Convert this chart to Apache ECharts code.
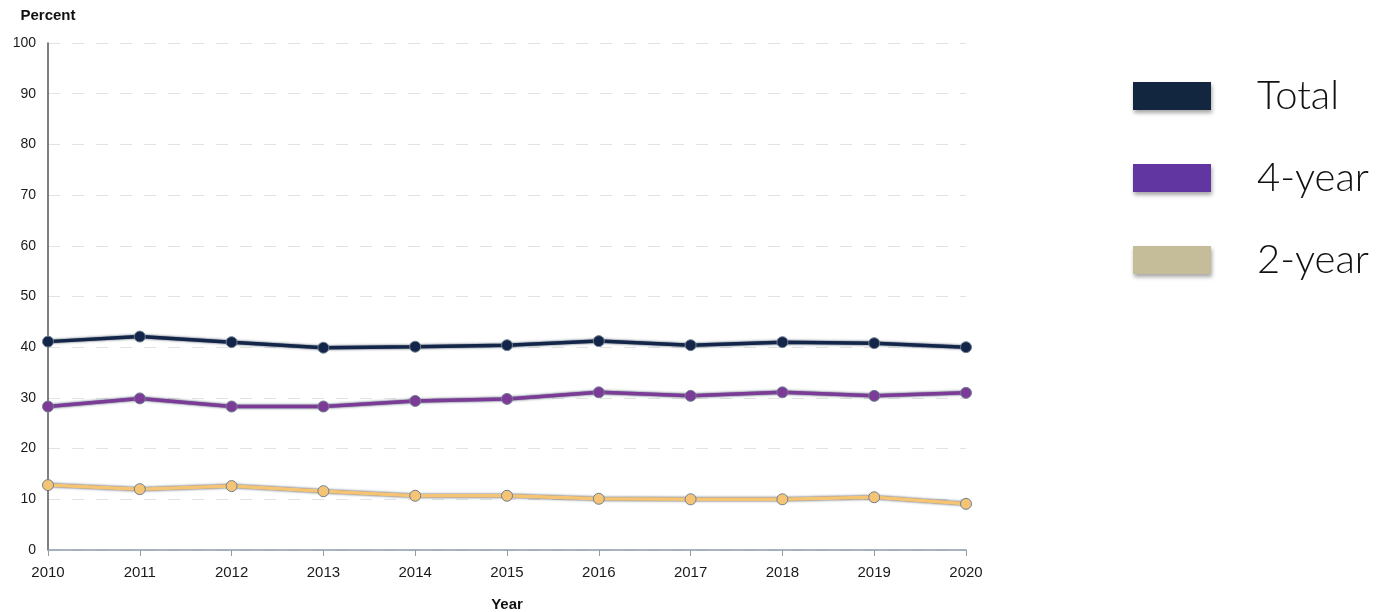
<!DOCTYPE html>
<html>
<head>
<meta charset="utf-8">
<script src="https://cdn.jsdelivr.net/npm/echarts@6/dist/echarts.min.js"></script>
<style>html,body{margin:0;padding:0;background:#fff;}#c{width:1376px;height:612px;}</style>
</head>
<body>
<div id="c"></div>
<script>
const years = ['2010','2011','2012','2013','2014','2015','2016','2017','2018','2019','2020'];
const total = [41.1, 42.1, 41.0, 39.9, 40.1, 40.4, 41.2, 40.4, 41.0, 40.8, 40.0];
const fourYear = [28.3, 29.9, 28.3, 28.3, 29.4, 29.8, 31.1, 30.4, 31.1, 30.4, 31.0];
const twoYear = [12.8, 12.0, 12.6, 11.6, 10.7, 10.7, 10.1, 10.0, 10.0, 10.4, 9.1];
const yTicks = [0, 10, 20, 30, 40, 50, 60, 70, 80, 90, 100];

const chart = echarts.init(document.getElementById('c'));
function lineSeries(name, data, color) {
  return {
    name: name, type: 'line', data: data,
    symbol: 'circle', symbolSize: 11,
    lineStyle: { color: color, width: 3.5, shadowColor: 'rgba(55,70,90,1)', shadowBlur: 2.5 },
    itemStyle: { color: color, borderColor: '#6f7f90', borderWidth: 1 },
    emphasis: { disabled: true }
  };
}
chart.setOption({
  animation: false,
  grid: { left: 48, right: 410, top: 43, bottom: 62, outerBoundsMode: 'none', containLabel: false },
  legend: {
    orient: 'vertical', left: 1128, top: 71,
    icon: 'rect', itemWidth: 78, itemHeight: 28, itemGap: 42,
    textStyle: { fontFamily: 'Lato', fontWeight: 300, fontSize: 40, color: '#111', lineHeight: 40, padding: [0, 0, 0, 41] },
    itemStyle: { borderWidth: 0, shadowBlur: 4, shadowColor: 'rgba(0,0,0,0.35)', shadowOffsetY: 3, shadowOffsetX: 1 },
    data: [
      { name: 'Total', itemStyle: { color: '#13263f' } },
      { name: '4-year', itemStyle: { color: '#6236a0' } },
      { name: '2-year', itemStyle: { color: '#c5bd99' } }
    ]
  },
  xAxis: {
    type: 'category', data: years, boundaryGap: false,
    name: 'Year', nameLocation: 'middle', nameGap: 47,
    nameTextStyle: { fontFamily: 'Liberation Sans', fontWeight: 'bold', fontSize: 15, color: '#111' },
    axisLine: { lineStyle: { color: '#8e9cab', width: 1.5 } },
    axisTick: { show: true, length: 6, lineStyle: { color: '#8e9cab' } },
    axisLabel: { fontFamily: 'Liberation Sans', fontSize: 15, color: '#1a1a1a', margin: 15 },
    splitLine: { show: false }
  },
  yAxis: {
    type: 'value', min: 0, max: 100, interval: 10,
    name: 'Percent', nameLocation: 'end', nameGap: 20,
    nameTextStyle: { fontFamily: 'Liberation Sans', fontWeight: 'bold', fontSize: 15, color: '#111', align: 'center' },
    axisLine: { show: true, lineStyle: { color: '#555', width: 1.5 } },
    axisTick: { show: false },
    axisLabel: { fontFamily: 'Liberation Sans', fontSize: 14, color: '#1a1a1a', margin: 12,
      formatter: function (v) { return yTicks.indexOf(v) >= 0 ? String(v) : ''; } },
    splitLine: { show: true, lineStyle: { color: '#e3e3e3', type: [12, 12], width: 1 } }
  },
  series: [
    lineSeries('2-year', twoYear, '#f5c575'),
    lineSeries('4-year', fourYear, '#7d3b98'),
    lineSeries('Total', total, '#13264a')
  ]
});
</script>
</body>
</html>
